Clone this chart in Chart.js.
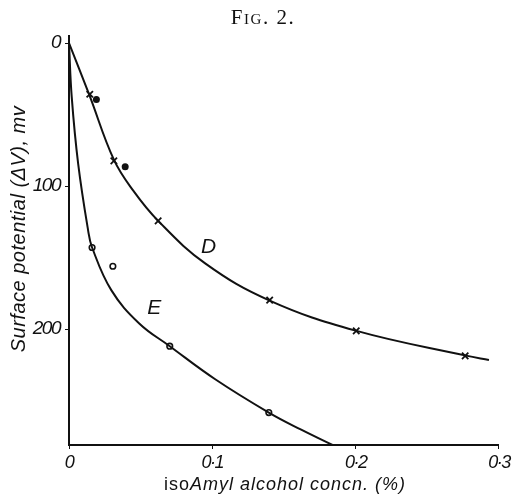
<!DOCTYPE html>
<html>
<head>
<meta charset="utf-8">
<script src="https://cdn.jsdelivr.net/npm/chart.js@4"></script>
<style>
  html, body { margin: 0; padding: 0; background: #fff; }
  #wrap { width: 515px; height: 495px; }
</style>
</head>
<body>
<div id="wrap"><canvas id="fig2" width="515" height="495"></canvas></div>
<script>
/* Fig. 2 - surface potential vs isoAmyl alcohol concentration */

// smooth curves as drawn in the figure (concn %, mV)
const curveDx = [0, 0.0141, 0.0313, 0.0447, 0.0622, 0.095, 0.14, 0.2, 0.277, 0.293];
const curveDy = [0, 36, 81.5, 103, 124.3, 154, 180, 201, 218.5, 221.5];
const curveEx = [0, 0.0019, 0.0064, 0.0133, 0.0161, 0.0295, 0.049, 0.0703, 0.102, 0.1394, 0.162, 0.1838];
const curveEy = [0, 37.6, 84.4, 130.7, 142.9, 172.7, 196, 211.9, 235, 258.3, 270.3, 281];

// measured points
const crossX = [0.0145, 0.0313, 0.0622, 0.14, 0.2004, 0.2764];
const crossY = [35.7, 82.3, 124.3, 179.7, 201.2, 218.7];
const dotX = [0.0191, 0.0392];
const dotY = [39.4, 86.5];
const ringX = [0.0161, 0.0306, 0.0703, 0.1394];
const ringY = [142.9, 156, 211.9, 258.3];

// axes
const xTickValues = [0, 0.1, 0.2, 0.3];
const xTickLabels = ["0", "0·1", "0·2", "0·3"];
const yTickValues = [0, 100, 200];
const yTickLabels = ["0", "100", "200"];

const INK = "#111";
const SANS = "'Liberation Sans', 'DejaVu Sans', sans-serif";

function pts(xs, ys) {
    return xs.map((x, i) => ({ x: x, y: ys[i] }));
}

/* title, axis titles and curve letters */
const figText = {
    id: "figText",
    beforeDraw(chart) {
        // the tick numerals in the figure are narrow
        chart.ctx.letterSpacing = "-1.5px";
    },
    afterDraw(chart) {
        const c = chart.ctx;
        const xs = chart.scales.x, ys = chart.scales.y;
        c.save();
        c.fillStyle = INK;

        // FIG. 2.
        c.letterSpacing = "1.5px";
        c.font = "small-caps 21px 'Liberation Serif', serif";
        c.textAlign = "center";
        c.textBaseline = "alphabetic";
        c.fillText("Fig. 2.", 263, 24);

        // y title
        c.letterSpacing = "0.5px";
        c.save();
        c.translate(19, 229);
        c.rotate(-Math.PI / 2);
        c.font = "italic 20px " + SANS;
        c.textAlign = "center";
        c.textBaseline = "middle";
        c.fillText("Surface potential (ΔV), mv", 0, 0);
        c.restore();

        // x title, "iso" upright
        c.letterSpacing = "1px";
        c.textAlign = "left";
        c.textBaseline = "alphabetic";
        c.font = "18px " + SANS;
        const a = "iso", b = "Amyl alcohol concn. (%)";
        const wa = c.measureText(a).width;
        c.font = "italic 18px " + SANS;
        const wb = c.measureText(b).width;
        const x0 = 285 - (wa + wb) / 2;
        c.font = "18px " + SANS;
        c.fillText(a, x0, 490);
        c.font = "italic 18px " + SANS;
        c.fillText(b, x0 + wa, 490);

        // curve letters
        c.letterSpacing = "0px";
        c.font = "italic 21px " + SANS;
        c.textAlign = "center";
        c.textBaseline = "middle";
        c.fillText("D", xs.getPixelForValue(0.0974), ys.getPixelForValue(142.4));
        c.fillText("E", xs.getPixelForValue(0.0594), ys.getPixelForValue(185.5));
        c.restore();
        c.letterSpacing = "0px";
    }
};

new Chart(document.getElementById("fig2"), {
    type: "scatter",
    data: {
        datasets: [
            {
                label: "D",
                data: pts(curveDx, curveDy),
                showLine: true,
                tension: 0.4,
                borderColor: INK,
                borderWidth: 2,
                pointRadius: 0
            },
            {
                label: "E",
                data: pts(curveEx, curveEy),
                showLine: true,
                tension: 0.4,
                borderColor: INK,
                borderWidth: 2,
                pointRadius: 0
            },
            {
                label: "crosses",
                data: pts(crossX, crossY),
                pointStyle: "crossRot",
                pointRadius: 4.5,
                borderColor: INK,
                borderWidth: 1.8
            },
            {
                label: "dots",
                data: pts(dotX, dotY),
                pointStyle: "circle",
                pointRadius: 3.5,
                backgroundColor: INK,
                borderColor: INK,
                borderWidth: 0
            },
            {
                label: "rings",
                data: pts(ringX, ringY),
                pointStyle: "circle",
                pointRadius: 2.8,
                backgroundColor: "#fff",
                borderColor: INK,
                borderWidth: 1.6
            }
        ]
    },
    options: {
        responsive: false,
        animation: false,
        events: [],
        layout: { padding: { top: 36, right: 12, left: 0, bottom: 0 } },
        plugins: {
            legend: { display: false },
            tooltip: { enabled: false }
        },
        scales: {
            x: {
                type: "linear",
                min: 0,
                max: 0.3,
                afterBuildTicks: s => { s.ticks = xTickValues.map(v => ({ value: v })); },
                afterFit: s => { s.height = 50; },
                ticks: {
                    color: INK,
                    padding: 3,
                    maxRotation: 0,
                    font: { family: SANS, size: 18, style: "italic" },
                    callback: v => xTickLabels[xTickValues.indexOf(v)]
                },
                grid: { drawOnChartArea: false, drawTicks: true, tickLength: 4, color: INK },
                border: { display: true, color: INK, width: 2 }
            },
            y: {
                type: "linear",
                reverse: true,
                min: -5,
                max: 281,
                afterBuildTicks: s => { s.ticks = yTickValues.map(v => ({ value: v })); },
                afterFit: s => { s.width = 69; },
                ticks: {
                    color: INK,
                    padding: 5,
                    font: { family: SANS, size: 19, style: "italic" },
                    callback: v => yTickLabels[yTickValues.indexOf(v)]
                },
                grid: { drawOnChartArea: false, drawTicks: true, tickLength: 4, color: INK },
                border: { display: true, color: INK, width: 2 }
            }
        }
    },
    plugins: [figText]
});
</script>
</body>
</html>
